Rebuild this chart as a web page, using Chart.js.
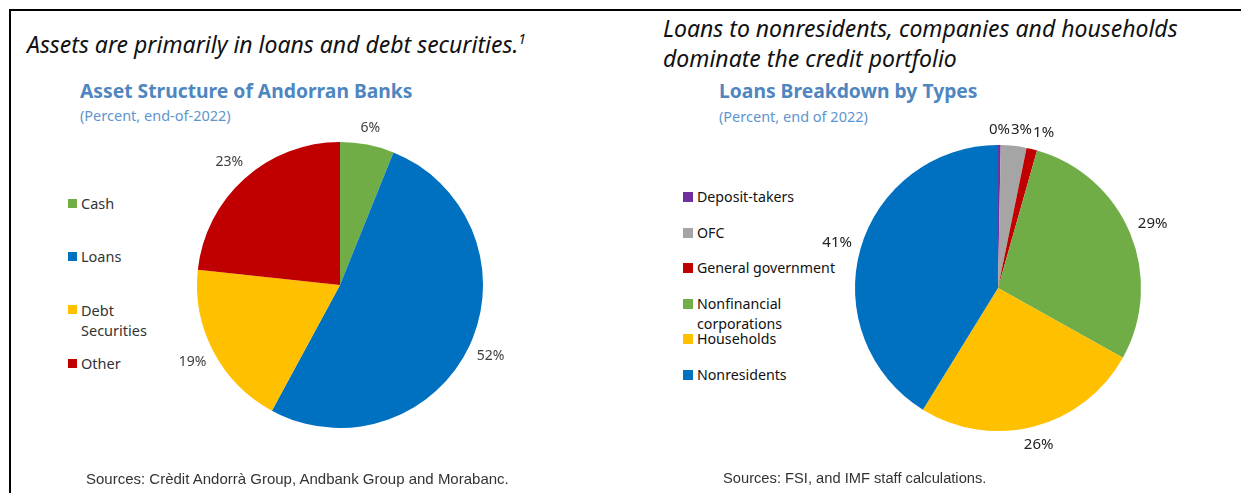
<!DOCTYPE html>
<html>
<head>
<meta charset="utf-8">
<script src="https://cdn.jsdelivr.net/npm/chart.js@4.4.1/dist/chart.umd.min.js"></script>
<style>
  html, body { margin: 0; padding: 0; background: #fff; }
  body { width: 1241px; height: 493px; position: relative; overflow: hidden; font-family: "Noto Sans", "Open Sans", sans-serif; }
  .frame { position: absolute; left: 9px; top: 9px; right: 0; bottom: 0; border-top: 2px solid #000; border-left: 2px solid #000; }
  .abs { position: absolute; white-space: nowrap; }
  .lead { font-style: italic; font-size: 23px; color: #111; line-height: 30px; }
  .lead sup { font-size: 14px; vertical-align: 9px; line-height: 0; }
  .head { font-weight: bold; font-size: 19.3px; color: #4f86c0; }
  .sub { font-size: 14.5px; color: #5e95cf; }
  .src { font-family: "Liberation Sans Narrow", "Liberation Sans", sans-serif; font-size: 15px; color: #333; }
  .leg { position: absolute; line-height: 20px; white-space: nowrap; }
  .leg .sw { position: absolute; left: 0; }
  .leg .tx { position: absolute; top: 0; }
  canvas { position: absolute; }
</style>
</head>
<body>
<div class="frame"></div>

<div class="abs lead" style="left:27px; top:29px;">Assets are primarily in loans and debt securities.<sup>1</sup></div>
<div class="abs lead" style="left:663px; top:13px;">Loans to nonresidents, companies and households<br>dominate the credit portfolio</div>

<div class="abs head" style="left:80px; top:77px;">Asset Structure of Andorran Banks</div>
<div class="abs sub" style="left:80px; top:105px;">(Percent, end-of-2022)</div>
<div class="abs head" style="left:719px; top:77px;">Loans Breakdown by Types</div>
<div class="abs sub" style="left:719px; top:106px;">(Percent, end of 2022)</div>

<div id="legendAssets"></div>
<div id="legendLoans"></div>

<canvas id="chartAssets" width="376" height="376" style="left:152px; top:97px; width:376px; height:376px;"></canvas>
<canvas id="chartLoans" width="376" height="376" style="left:810px; top:100px; width:376px; height:376px;"></canvas>

<div class="abs src" style="left:86px; top:470px;">Sources: Crèdit Andorrà Group, Andbank Group and Morabanc.</div>
<div class="abs src" style="left:723px; top:470px; font-size:14.7px;">Sources: FSI, and IMF staff calculations.</div>

<script>
// Asset structure, percent, end-2022
const assetLabels = ['Cash', 'Loans', ['Debt', 'Securities'], 'Other'];
const assetValues = [6.1, 51.8, 18.8, 23.3];
const assetColors = ['#70ad47', '#0070c0', '#ffc000', '#c00000'];

// Loans by counterpart, percent, end-2022
const loanLabels = ['Deposit-takers', 'OFC', 'General government', ['Nonfinancial', 'corporations'], 'Households', 'Nonresidents'];
const loanValues = [0.3, 2.9, 1.2, 28.7, 25.7, 41.2];
const loanColors = ['#7030a0', '#a5a5a5', '#c00000', '#70ad47', '#ffc000', '#0070c0'];

// Percent labels just outside each slice; thin slices are pushed right so they don't collide
const outsideLabels = {
    id: 'outsideLabels',
    afterDatasetsDraw(chart, args, opts) {
        const ctx = chart.ctx;
        const meta = chart.getDatasetMeta(0);
        const values = chart.data.datasets[0].data;
        ctx.save();
        ctx.font = opts.font;
        ctx.fillStyle = opts.color;
        ctx.textAlign = 'center';
        ctx.textBaseline = 'middle';
        let prev = null;
        meta.data.forEach((arc, i) => {
            const p = arc.getProps(['x', 'y', 'startAngle', 'endAngle', 'outerRadius'], true);
            const mid = (p.startAngle + p.endAngle) / 2;
            const text = Math.round(values[i]) + '%';
            const w = ctx.measureText(text).width;
            const h = opts.height;
            const c = Math.cos(mid), s = Math.sin(mid);
            const d = p.outerRadius + opts.pad + Math.abs(c) * w / 2 + Math.abs(s) * h / 2;
            let x = p.x + c * d, y = p.y + s * d;
            if (prev && Math.abs(y - prev.y) < h && Math.abs(x - prev.x) < (w + prev.w) / 2) {
                x = prev.x + prev.w / 2 + w / 2 + 1;
            }
            ctx.fillText(text, x, y);
            prev = { x: x, y: y, w: w };
        });
        ctx.restore();
    }
};

function buildLegend(el, labels, colors, x, y0, step, size, fontSize, color) {
    labels.forEach((lab, i) => {
        const lines = Array.isArray(lab) ? lab : [lab];
        const item = document.createElement('div');
        item.className = 'leg';
        item.style.left = x + 'px';
        item.style.top = (y0 + i * step - 10) + 'px';
        item.style.fontSize = fontSize + 'px';
        item.style.color = color;
        item.innerHTML = '<span class="sw" style="width:' + size + 'px;height:' + size + 'px;top:' + (10 - size / 2) + 'px;background:' + colors[i] + '"></span>' +
            '<span class="tx" style="left:' + (size + 4) + 'px">' + lines.join('<br>') + '</span>';
        el.appendChild(item);
    });
}

function initPie(id, labels, values, colors, labelFont, labelColor) {
    return new Chart(document.getElementById(id).getContext('2d'), {
        type: 'pie',
        data: {
            labels: labels,
            datasets: [{
                data: values,
                backgroundColor: colors,
                borderWidth: 0
            }]
        },
        options: {
            responsive: false,
            animation: false,
            layout: { padding: 45 },
            plugins: {
                legend: { display: false },
                tooltip: { enabled: false },
                outsideLabels: { font: labelFont, color: labelColor, pad: 8, height: 14 }
            }
        },
        plugins: [outsideLabels]
    });
}

document.addEventListener('DOMContentLoaded', function () {
    buildLegend(document.getElementById('legendAssets'), assetLabels, assetColors, 68, 203, 53.4, 9, 14.5, '#333');
    buildLegend(document.getElementById('legendLoans'), loanLabels, loanColors, 683, 197, 35.6, 10, 14.2, '#111');
    initPie('chartAssets', assetLabels, assetValues, assetColors, '14px "Noto Sans"', '#404040');
    initPie('chartLoans', loanLabels, loanValues, loanColors, '15px "Noto Sans"', '#222');
});
</script>
</body>
</html>
